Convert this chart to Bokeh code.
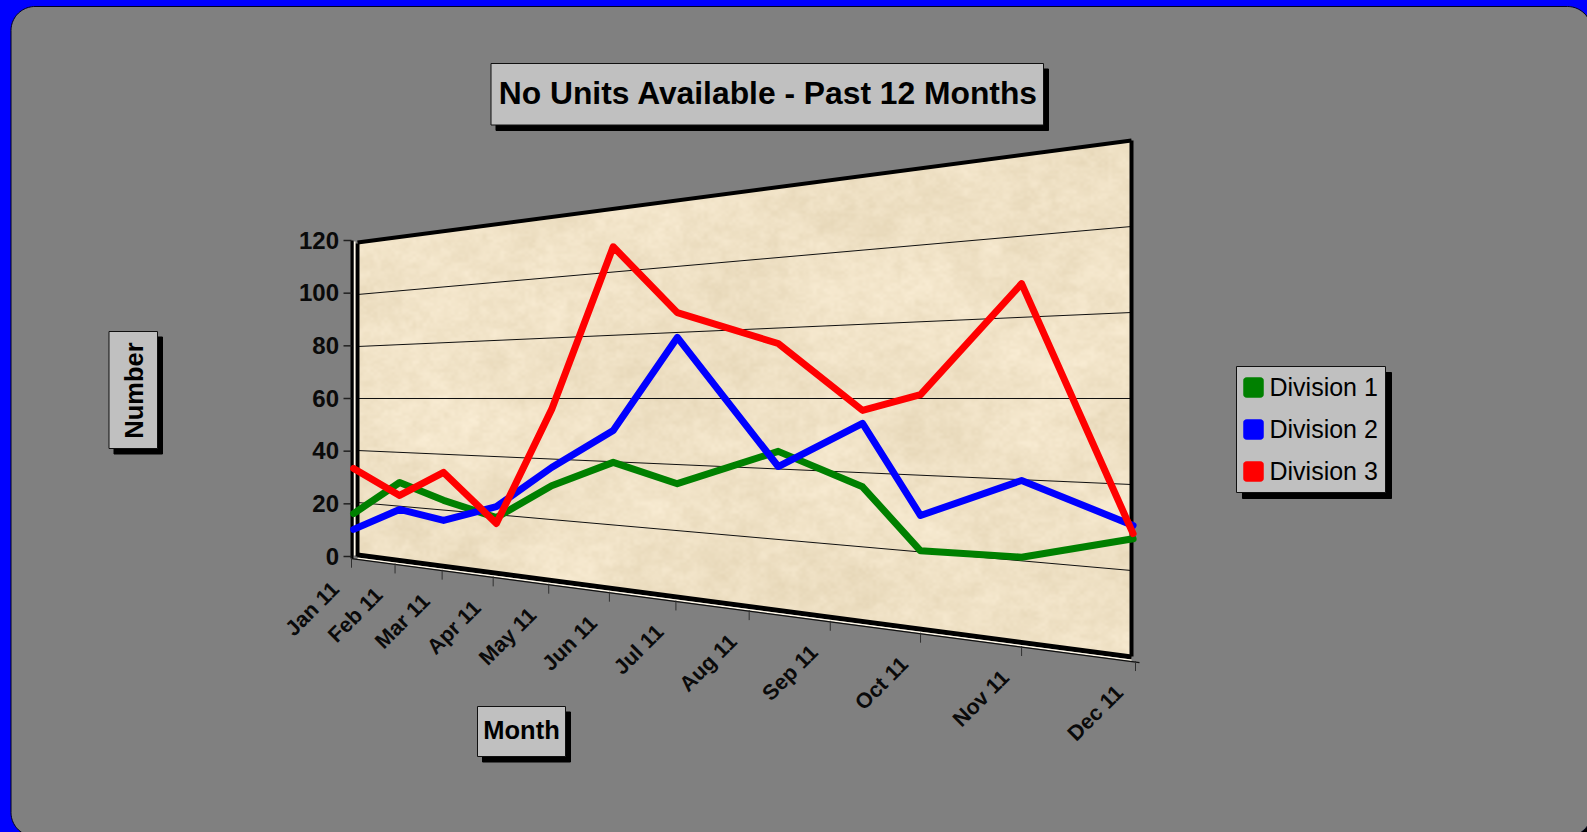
import numpy as np
from bokeh.plotting import figure
from bokeh.models import ColumnDataSource, Range1d
from bokeh.core.properties import value
from bokeh.embed import file_html
from bokeh.resources import INLINE

# ---------- chart data ----------
title_text = "No Units Available - Past 12 Months"
x_title = "Month"
y_title = "Number"
months = ["Jan 11", "Feb 11", "Mar 11", "Apr 11", "May 11", "Jun 11",
          "Jul 11", "Aug 11", "Sep 11", "Oct 11", "Nov 11", "Dec 11"]
y_ticks = [0, 20, 40, 60, 80, 100, 120]
# where each sample sits on the month axis (0 = Jan 11, 11 = Dec 11)
sample_month = [0.05, 1.10, 2.03, 3.06, 4.05, 5.06, 6.02, 7.37, 8.37, 9.00, 10.00, 10.98]
division_1 = [15.6, 28.8, 23.5, 19.0, 31.2, 39.8, 34.2, 45.0, 36.2, 20.3, 20.9, 27.4]
division_2 = [9.5, 18.8, 16.3, 22.8, 37.2, 49.9, 78.5, 40.7, 53.3, 29.5, 39.8, 30.5]
division_3 = [33.0, 24.0, 33.5, 17.0, 56.4, 108.0, 86.0, 75.6, 56.8, 61.0, 88.3, 28.6]
series = [("Division 1", division_1, "#008000"),
          ("Division 2", division_2, "#0000ff"),
          ("Division 3", division_3, "#ff0000")]

W, H = 1587, 832
FONT = value("Liberation Sans")


def Y(py):
    return H - np.asarray(py, dtype=float)


# ---------- perspective of the back wall ----------
AX0, AX1, KP = 351.0, 1135.0, 0.7
WL, WR = 357.0, 1131.0
MID_V, MID_Y = 60.0, 398.0
HL, HR = 156.0, 258.0


def month_to_px(t):
    u = np.asarray(t, dtype=float) / 11.0
    return AX0 + (AX1 - AX0) * u / (1 + KP * (1 - u))


def half(px):
    return HL + (np.asarray(px, dtype=float) - WL) * (HR - HL) / (WR - WL)


def value_to_py(v, px):
    return MID_Y - (np.asarray(v, dtype=float) - MID_V) / MID_V * half(px)


def axis_y(px):
    return value_to_py(0, px) + 5.0


def round_rect(x0, y0, x1, y1, r, n=24):
    a = np.linspace(0, np.pi / 2, n)
    xs = np.r_[x1 - r + r * np.sin(a), x1 - r + r * np.cos(a), x0 + r - r * np.sin(a), x0 + r - r * np.cos(a)]
    ys = np.r_[y0 + r - r * np.cos(a), y1 - r + r * np.sin(a), y1 - r + r * np.cos(a), y0 + r - r * np.sin(a)]
    return xs, ys


p = figure(width=W, height=H, output_backend="svg", toolbar_location=None,
           x_range=Range1d(0, W), y_range=Range1d(0, H), min_border=0,
           background_fill_color="#0000ff", border_fill_color="#0000ff",
           outline_line_color=None)
p.axis.visible = False
p.grid.visible = False

# chart area
sx, sy = round_rect(13, 8, 1593, 838, 24)
p.patch(sx, Y(sy), fill_color="#000000", line_color="#000000")
gx, gy = round_rect(10.5, 6, 1591, 836, 24)
p.patch(gx, Y(gy), fill_color="#808080", line_color="#000020", line_width=1)

# ---------- parchment wall ----------
def lattice(nx, ny, xs, ys, seed):
    gxv = np.arange(nx + 2)[None, :]
    gyv = np.arange(ny + 2)[:, None]
    g = np.sin(gxv * 12.9898 + gyv * 78.233 + seed) * 43758.5453
    g = g - np.floor(g)
    fx = xs * nx
    fy = ys * ny
    ix = np.floor(fx).astype(int)
    iy = np.floor(fy).astype(int)
    tx = fx - ix
    ty = fy - iy
    tx = tx * tx * (3 - 2 * tx)
    ty = ty * ty * (3 - 2 * ty)
    a = g[iy[:, None], ix[None, :]]
    b = g[iy[:, None], ix[None, :] + 1]
    c = g[iy[:, None] + 1, ix[None, :]]
    d = g[iy[:, None] + 1, ix[None, :] + 1]
    tx = tx[None, :]
    ty = ty[:, None]
    return (a * (1 - tx) + b * tx) * (1 - ty) + (c * (1 - tx) + d * tx) * ty


TW, TH = int(WR - WL), 520
TOP = 139.0
xs = np.linspace(0, 0.9999, TW)
ys = np.linspace(0, 0.9999, TH)
n = (lattice(8, 7, xs, ys, 1.0) - 0.5) * 0.6
n = n + (lattice(28, 24, xs, ys, 2.0) - 0.5) * 0.4
n = n + (lattice(80, 70, xs, ys, 3.0) - 0.5) * 0.45
n = n + (lattice(220, 180, xs, ys, 4.0) - 0.5) * 0.35
shade = np.clip(n, -1, 1)
base = np.array([240.0, 226.0, 198.0])
tone = np.array([15.0, 17.0, 22.0])
rgb = base[None, None, :] + shade[:, :, None] * tone[None, None, :]
rgb = np.clip(rgb, 0, 255)
px_col = WL + xs * (WR - WL)
py_row = TOP + ys * TH
top_edge = value_to_py(120, px_col)
bot_edge = value_to_py(0, px_col)
mask = (py_row[:, None] >= top_edge[None, :]) & (py_row[:, None] <= bot_edge[None, :])
img = np.zeros((TH, TW), dtype=np.uint32)
view = img.view(dtype=np.uint8).reshape((TH, TW, 4))
view[:, :, 0] = rgb[:, :, 0].astype(np.uint8)
view[:, :, 1] = rgb[:, :, 1].astype(np.uint8)
view[:, :, 2] = rgb[:, :, 2].astype(np.uint8)
view[:, :, 3] = np.where(mask, 255, 0).astype(np.uint8)
img = img[::-1, :]
p.image_rgba(image=[img], x=WL, y=float(Y(TOP + TH)), dw=WR - WL, dh=TH)

# gridlines
for v in y_ticks[1:-1]:
    py = value_to_py(v, [WL, WR])
    p.line([WL, WR], Y(py), line_color="#101010", line_width=1)

# walls
tr_x = np.array([WL, WR])
p.line(tr_x, Y(value_to_py(120, tr_x)), line_color="#000000", line_width=4)
p.line([WR, WR], Y([value_to_py(120, WR), value_to_py(0, WR)]), line_color="#000000", line_width=4)
# floor: black edge, pale strip, thin axis
p.line(tr_x, Y(value_to_py(0, tr_x) + 0.5), line_color="#000000", line_width=5)
p.line(tr_x, Y(value_to_py(0, tr_x) + 3.7), line_color="#fff8e8", line_width=1.5)
ax_x = np.array([AX0, AX1 + 4])
p.line(ax_x, Y(axis_y(ax_x)), line_color="#101010", line_width=1.2)
# left wall doubled
p.line([357, 357], Y([243, 556]), line_color="#000000", line_width=4)
p.line([354.2, 354.2], Y([241, 555]), line_color="#fff8e8", line_width=1.5)
p.line([351.5, 351.5], Y([240, 558]), line_color="#000000", line_width=3)

# ticks and tick labels, y
tick_v = np.array(y_ticks, dtype=float)
tick_py = 556.0 - tick_v / 120.0 * (556.0 - 240.0)
p.segment(x0=[343.0] * 7, y0=Y(tick_py), x1=[351.0] * 7, y1=Y(tick_py), line_color="#202020", line_width=1.5)
p.text(x=[338.5] * 7, y=Y(tick_py - 0.5), text=[str(v) for v in y_ticks], text_font=FONT,
       text_font_style="bold", text_font_size="24px", text_align="right",
       text_baseline="middle", text_color="#0a0a0a")

# ticks and tick labels, x
tx = month_to_px(np.arange(12))
ty = axis_y(tx)
p.segment(x0=tx, y0=Y(ty - 1), x1=tx, y1=Y(ty + 9), line_color="#303030", line_width=1)
p.text(x=tx - 16, y=Y(ty + 27), text=months, angle=np.pi / 4, text_font=FONT,
       text_font_style="bold", text_font_size="21.5px", text_align="right",
       text_baseline="middle", text_color="#0a0a0a")

# ---------- series ----------
for name, vals, col in series:
    px = month_to_px(sample_month)
    py = value_to_py(vals, px)
    src = ColumnDataSource(dict(x=px, y=Y(py), month=sample_month, value=vals))
    p.line("x", "y", source=src, line_color=col, line_width=7, line_join="round", line_cap="round", name=name)


# ---------- boxes ----------
def box(x0, y0, x1, y1, dx, dy):
    p.quad(left=x0 + dx, right=x1 + dx, top=Y(y0 + dy), bottom=Y(y1 + dy), fill_color="#000000", line_color="#000000")
    p.quad(left=x0, right=x1, top=Y(y0), bottom=Y(y1), fill_color="#c0c0c0", line_color="#101010", line_width=1)


box(490.5, 63, 1043, 124.5, 5, 5.5)
p.text(x=[768], y=Y([92.5]), text=[title_text], text_font=FONT, text_font_style="bold",
       text_font_size="31.8px", text_align="center", text_baseline="middle", text_color="#000000")

box(108.5, 331, 157, 448, 5, 5.5)
p.text(x=[133], y=Y([390]), text=[y_title], angle=np.pi / 2, text_font=FONT, text_font_style="bold",
       text_font_size="25.5px", text_align="center", text_baseline="middle", text_color="#000000")

box(477, 706, 565, 756, 5, 5.5)
p.text(x=[521], y=Y([729.5]), text=[x_title], text_font=FONT, text_font_style="bold",
       text_font_size="25.5px", text_align="center", text_baseline="middle", text_color="#000000")

box(1236, 366, 1385, 492, 6, 6)
for i, (name, vals, col) in enumerate(series):
    cy = 387 + 42 * i
    sw, sh = round_rect(1243, cy - 10, 1263, cy + 10, 3, 6)
    p.patch(sw, Y(sh), fill_color=col, line_color=col, line_width=0.5)
    p.text(x=[1269], y=Y([cy - 1]), text=[name], text_font=FONT, text_font_size="25px",
           text_align="left", text_baseline="middle", text_color="#000000")

html = file_html(p, INLINE)
html = html.replace("<head>", "<head><style>html,body{margin:0;padding:0;overflow:hidden;background:#0000ff}</style>", 1)
open("out.html", "w").write(html)
